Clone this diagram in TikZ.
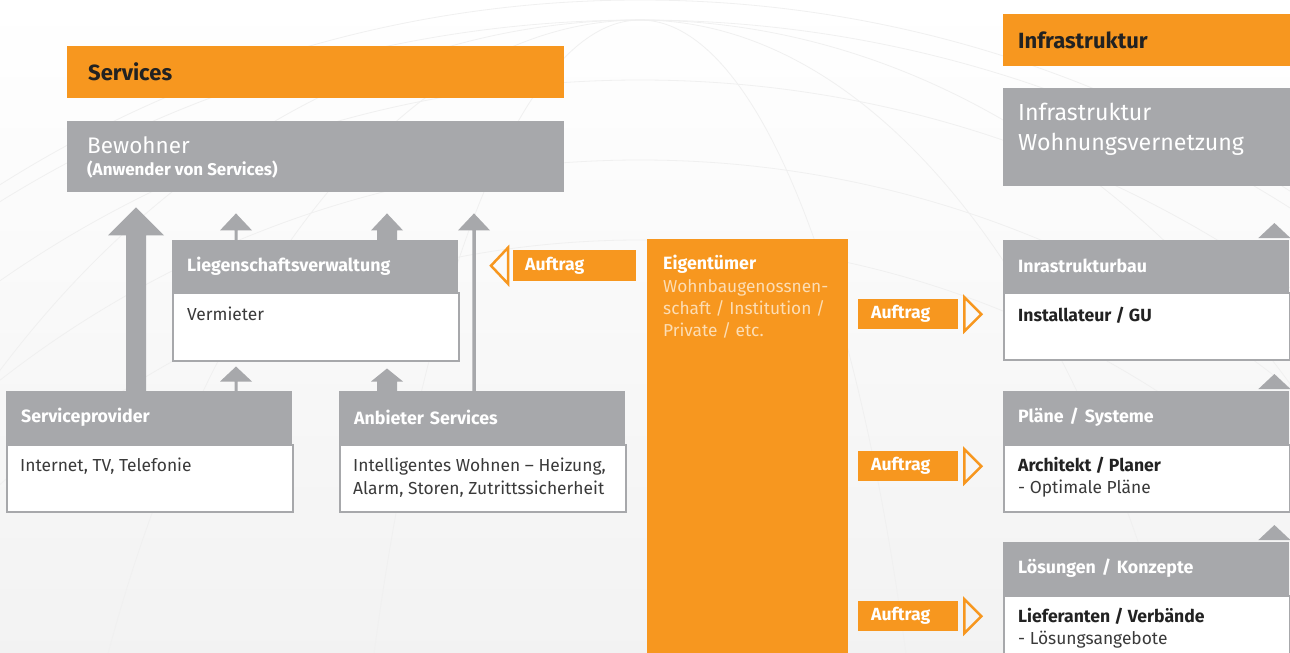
\documentclass[tikz,border=0pt]{standalone}
\usepackage{fontspec}
\setmainfont{Fira Sans}
\usetikzlibrary{calc}
\definecolor{og}{HTML}{F7971F}
\definecolor{ag}{HTML}{A7A8AB}
\definecolor{tx}{HTML}{3A3A3A}
\definecolor{tb}{HTML}{222222}
\definecolor{lt}{HTML}{FCDDB4}
\newcommand\upconn[5]{%
  \fill[ag] let \p1=(#1), \p2=(#2) in
   (\x1-#3pt,\y1) -- (\x1-#3pt,\y2-#5pt) -- (\x1-#4pt,\y2-#5pt) -- (\x1,\y2)
   -- (\x1+#4pt,\y2-#5pt) -- (\x1+#3pt,\y2-#5pt) -- (\x1+#3pt,\y1) -- cycle;}
\begin{document}
\begin{tikzpicture}[x=1pt,y=-1pt,
  hdr/.style={fill=ag, text=white, font=\bfseries\fontsize{17.8}{20}\selectfont,
    anchor=north west, inner xsep=15pt, inner ysep=0pt, minimum height=#1,
    text width=256pt, align=left},
  bodybox/.style={draw=ag, line width=1.5pt, fill=white, anchor=north west,
    minimum width=286pt, minimum height=#1, inner sep=0pt},
  btext/.style={anchor=base west, inner sep=0pt, text=tx, font=\fontsize{17.4}{20}\selectfont},
  bbold/.style={anchor=base west, inner sep=0pt, text=tb, font=\bfseries\fontsize{17.6}{20}\selectfont},
  auf/.style={fill=og, text=white, font=\bfseries\fontsize{17.6}{20}\selectfont,
    anchor=north west, inner ysep=0pt, align=left},
  tri/.style={draw=og, line width=2.5pt, line join=miter},
  globe/.style={draw=black!6, line width=0.8pt}]
\useasboundingbox (0,0) rectangle (1290,653);
\clip (0,0) rectangle (1290,653);
% background
\fill[top color=white, bottom color=black!5] (0,0) rectangle (1290,653);
\foreach \r in {960,1040,1120,1200} \draw[globe] (640,1200) circle (\r);
\foreach \rx in {300,600,900,1200} \draw[globe] (640,1200) ellipse ({\rx} and 1180);
% top bars
\node[fill=og, anchor=north west, minimum width=497pt, minimum height=52pt, inner xsep=21pt, inner ysep=0pt,
  text width=455pt, align=left, text=tb, font=\bfseries\fontsize{22}{26}\selectfont] (srv) at (67,46) {Services};
\node[fill=ag, anchor=north west, minimum width=497pt, minimum height=71pt, inner sep=0pt] (bew) at (67,121) {};
\node[anchor=base west, inner sep=0pt, text=white, font=\fontsize{22.5}{26}\selectfont] (bew1) at (87,153) {Bewohner};
\node[anchor=base west, inner sep=0pt, text=white, font=\bfseries\fontsize{17}{20}\selectfont] (bew2) at (87,175) {(Anwender von Services)};
\node[fill=og, anchor=north west, minimum width=287pt, minimum height=52pt, inner xsep=15pt, inner ysep=0pt,
  text width=257pt, align=left, text=tb, font=\bfseries\fontsize{22}{26}\selectfont] (inf) at (1003,14) {Infrastruktur};
\node[fill=ag, anchor=north west, minimum width=287pt, minimum height=98pt, inner sep=0pt] (iwv) at (1003,88) {};
\node[anchor=base west, inner sep=0pt, text=white, font=\fontsize{23.2}{27}\selectfont] (iwv1) at (1018,120) {Infrastruktur};
\node[anchor=base west, inner sep=0pt, text=white, font=\fontsize{23.2}{27}\selectfont] (iwv2) at (1018,150) {Wohnungsvernetzung};
% left boxes
\node[hdr=52pt] (lvh) at (172,240) {Liegenschaftsverwaltung};
\node[bodybox=68pt] (lvb) at (172,292) {};
\node[btext] (lvt) at (187,320.5) {Vermieter};
\node[hdr=53pt] (sph) at (6,391) {Serviceprovider};
\node[bodybox=67pt] (spb) at (6,444) {};
\node[btext] (spt) at (20,471.5) {Internet, TV, Telefonie};
\node[hdr=53pt] (anh) at (339,391) {Anbieter Services};
\node[bodybox=67pt] (anb) at (339,444) {};
\node[btext] (ant1) at (353,471.5) {Intelligentes Wohnen – Heizung,};
\node[btext] (ant2) at (353,494.5) {Alarm, Storen, Zutrittssicherheit};
% arrows
\coordinate (xa) at (136,0);
\coordinate (xb) at (236,0);
\coordinate (xc) at (387,0);
\coordinate (xd) at (474,0);
\upconn{sph.north -| xa}{$(bew.south -| xa)+(0,15)$}{10}{28}{28}
\upconn{lvh.north -| xb}{$(bew.south -| xb)+(0,21)$}{1.5}{16}{17}
\upconn{lvh.north -| xc}{$(bew.south -| xc)+(0,21)$}{10}{16}{17}
\upconn{anh.north -| xd}{$(bew.south -| xd)+(0,21)$}{1.75}{16}{17}
\upconn{sph.north -| xb}{$(lvb.south -| xb)+(0,5)$}{1.5}{16}{15}
\upconn{anh.north -| xc}{$(lvb.south -| xc)+(0,7)$}{10}{16}{13}
% Eigentuemer
\node[fill=og, anchor=north west, minimum width=201pt, minimum height=420pt, inner sep=0pt] (eig) at (647,239) {};
\node[anchor=base west, inner sep=0pt, text=white, font=\bfseries\fontsize{17.8}{20}\selectfont] (eig1) at (663,269.5) {Eigentümer};
\node[anchor=base west, inner sep=0pt, text=lt, font=\fontsize{17.3}{20}\selectfont] (eig2) at (663,292.3) {Wohnbaugenossnen-};
\node[anchor=base west, inner sep=0pt, text=lt, font=\fontsize{17.3}{20}\selectfont] (eig3) at (663,314.3) {schaft / Institution /};
\node[anchor=base west, inner sep=0pt, text=lt, font=\fontsize{17.3}{20}\selectfont] (eig4) at (663,336.3) {Private / etc.};
% Auftrag left
\node[auf, minimum height=31pt, inner xsep=12pt, text width=99pt] (au0) at (513,250) {Auftrag};
\draw[tri] ($(au0.west)+(-5,-18)$) -- ($(au0.west)+(-22,0)$) -- ($(au0.west)+(-5,18)$) -- cycle;
% right boxes
\node[hdr=52pt] (ibh) at (1003,240) {Inrastrukturbau};
\node[bodybox=67pt] (ibb) at (1003,292) {};
\node[bbold] (ibt) at (1018,321) {Installateur / GU};
\node[hdr=53pt] (psh) at (1003,391) {Pläne / Systeme};
\node[bodybox=67pt] (psb) at (1003,444) {};
\node[bbold] (pst1) at (1018,471.5) {Architekt / Planer};
\node[btext] (pst2) at (1018,493.5) {- Optimale Pläne};
\node[hdr=53pt] (lkh) at (1003,542) {Lösungen / Konzepte};
\node[bodybox=80pt] (lkb) at (1003,595) {};
\node[bbold] (lkt1) at (1018,622.5) {Lieferanten / Verbände};
\node[btext] (lkt2) at (1018,644.5) {- Lösungsangebote};
% right triangles
\foreach \h in {ibh,psh,lkh}
  \fill[ag] ($(\h.north east)+(-31,-2)$) -- ($(\h.north east)+(-15,-17)$) -- ($(\h.north east)+(1,-2)$) -- cycle;
% Auftrag right
\node[auf, minimum height=30pt, inner xsep=13pt, text width=74pt] (au1) at (858,299) {Auftrag};
\node[auf, minimum height=30pt, inner xsep=13pt, text width=74pt] (au2) at (858,451) {Auftrag};
\node[auf, minimum height=30pt, inner xsep=13pt, text width=74pt] (au3) at (858,601) {Auftrag};
\foreach \a in {au1,au2,au3}
  \draw[tri] ($(\a.east)+(6,-17)$) -- ($(\a.east)+(23,0)$) -- ($(\a.east)+(6,17)$) -- cycle;
\end{tikzpicture}
\end{document}
